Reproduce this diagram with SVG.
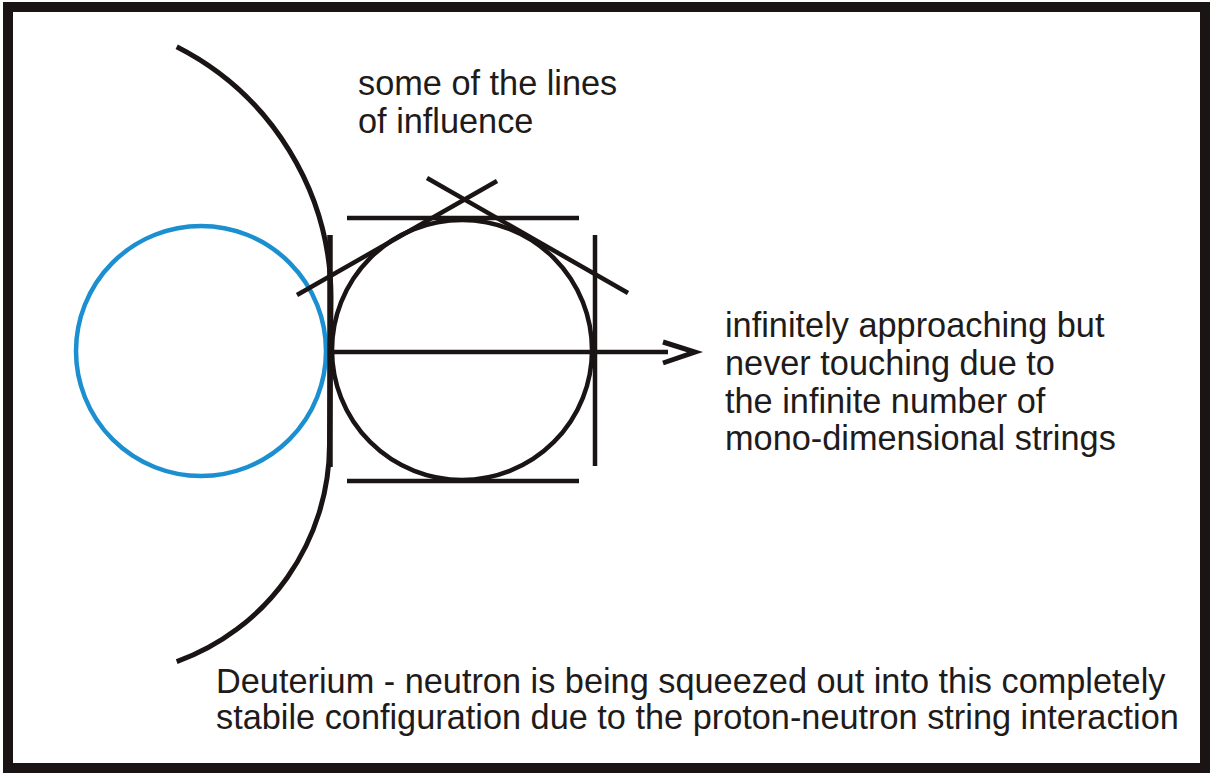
<svg xmlns="http://www.w3.org/2000/svg" width="1213" height="773" viewBox="0 0 1213 773">
<style>
.ln{stroke:#1a1514;stroke-width:4.5;fill:none;stroke-linecap:butt}
.t{font-family:"Liberation Sans",Arial,sans-serif;font-size:34.3px;fill:#1e1b1a}
</style>
<rect x="0" y="0" width="1213" height="773" fill="#fff"/>
<rect x="8" y="7" width="1197" height="761" fill="#fff" stroke="#1a1514" stroke-width="10"/>
<g id="nucleus-arc"><path class="ln" style="stroke-width:5" d="M176.7,46.7 A282,282 0 0 1 331,298 L329.5,445 A231,231 0 0 1 176.7,661.7"/></g>
<g id="proton"><circle cx="201" cy="351" r="125" fill="none" stroke="#1b8fcf" stroke-width="4.5"/></g>
<g id="neutron"><circle cx="462" cy="350" r="130" class="ln"/></g>
<g id="connectors">
<line class="ln" x1="347" y1="218" x2="579" y2="218"/>
<line class="ln" x1="347" y1="481" x2="579" y2="481"/>
<line class="ln" x1="595" y1="235" x2="595" y2="466"/>
<line class="ln" x1="330" y1="235" x2="330" y2="467" style="stroke-width:5.5"/>
<line class="ln" x1="297" y1="295" x2="497" y2="181"/>
<line class="ln" x1="427" y1="178" x2="628" y2="293"/>
<line class="ln" x1="330" y1="352" x2="668" y2="352"/>
<polyline class="ln" points="663,342 695,352 663,363" style="stroke-width:5"/>
</g>
<g id="labels">
<text class="t" x="358" y="95">some of the lines</text>
<text class="t" x="358" y="133">of influence</text>
<text class="t" x="725" y="337">infinitely approaching but</text>
<text class="t" x="725" y="375">never touching due to</text>
<text class="t" x="725" y="413">the infinite number of</text>
<text class="t" x="725" y="450">mono-dimensional strings</text>
<text class="t" x="216" y="693">Deuterium - neutron is being squeezed out into this completely</text>
<text class="t" x="216" y="729">stabile configuration due to the proton-neutron string interaction</text>
</g>
</svg>
